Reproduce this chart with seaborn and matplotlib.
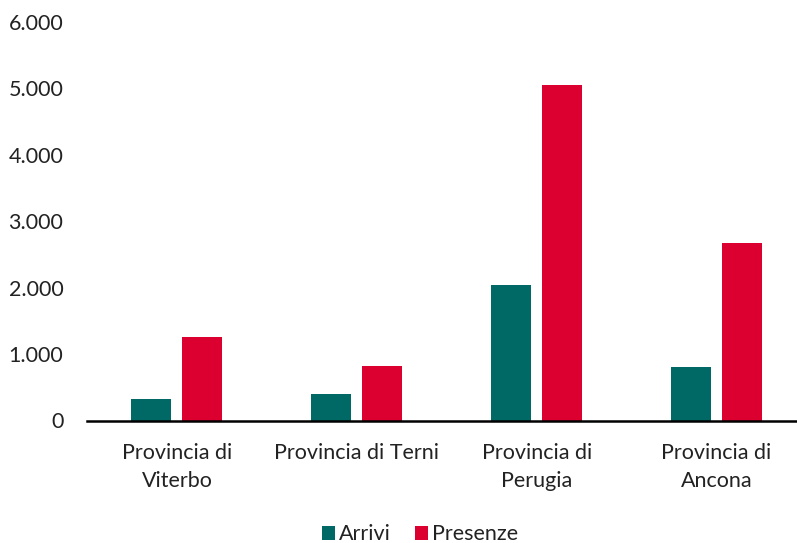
import matplotlib
matplotlib.use("Agg")
import matplotlib.pyplot as plt
import matplotlib.ticker as mticker
from matplotlib.patches import Patch
import seaborn as sns
import pandas as pd

categories = ["Provincia di\nViterbo", "Provincia di Terni", "Provincia di\nPerugia", "Provincia di\nAncona"]
arrivi = [325, 400, 2035, 800]
presenze = [1250, 822, 5045, 2675]
series_names = ["Arrivi", "Presenze"]
colors = ["#006865", "#DC0030"]
yticks = [0, 1000, 2000, 3000, 4000, 5000, 6000]

df = pd.DataFrame({
    "cat": categories * 2,
    "serie": [series_names[0]] * 4 + [series_names[1]] * 4,
    "val": arrivi + presenze,
})

sns.set_style("white")
plt.rcParams["font.family"] = ["Lato", "DejaVu Sans"]

fig = plt.figure(figsize=(7.97, 5.43), dpi=100)
ax = fig.add_axes([87 / 797, (543 - 420.5) / 543, (806.5 - 87) / 797, (420.5 - 22) / 543])

sns.barplot(data=df, x="cat", y="val", hue="serie", palette=colors, width=0.567, gap=0.216,
            ax=ax, legend=False, saturation=1, linewidth=0)

ax.set_ylim(0, 6000)
ax.set_xlim(-0.5, 3.5)
ax.set_yticks(yticks)
ax.yaxis.set_major_formatter(mticker.FuncFormatter(lambda v, p: f"{int(v):,}".replace(",", ".")))
ax.set_xlabel("")
ax.set_ylabel("")
for s in ["top", "right", "left"]:
    ax.spines[s].set_visible(False)
ax.spines["bottom"].set_color("black")
ax.spines["bottom"].set_linewidth(1.8)
ax.tick_params(axis="y", length=0, pad=17, labelsize=15.5, colors="#222222")
ax.tick_params(axis="x", length=0, pad=16.5, labelsize=15.5, colors="#222222")
for lab in ax.get_xticklabels():
    lab.set_linespacing(1.5)
    lab.set_verticalalignment("top")

handles = [Patch(facecolor=c, edgecolor="none", label=n) for c, n in zip(colors, series_names)]
fig.legend(handles=handles, loc="center", bbox_to_anchor=(420 / 797, 1 - 534.5 / 543), ncol=2,
           frameon=False, fontsize=15.5, handlelength=0.6, handleheight=0.6,
           handletextpad=0.2, columnspacing=1.1, labelcolor="#222222")

fig.savefig("out.png", dpi=100)
